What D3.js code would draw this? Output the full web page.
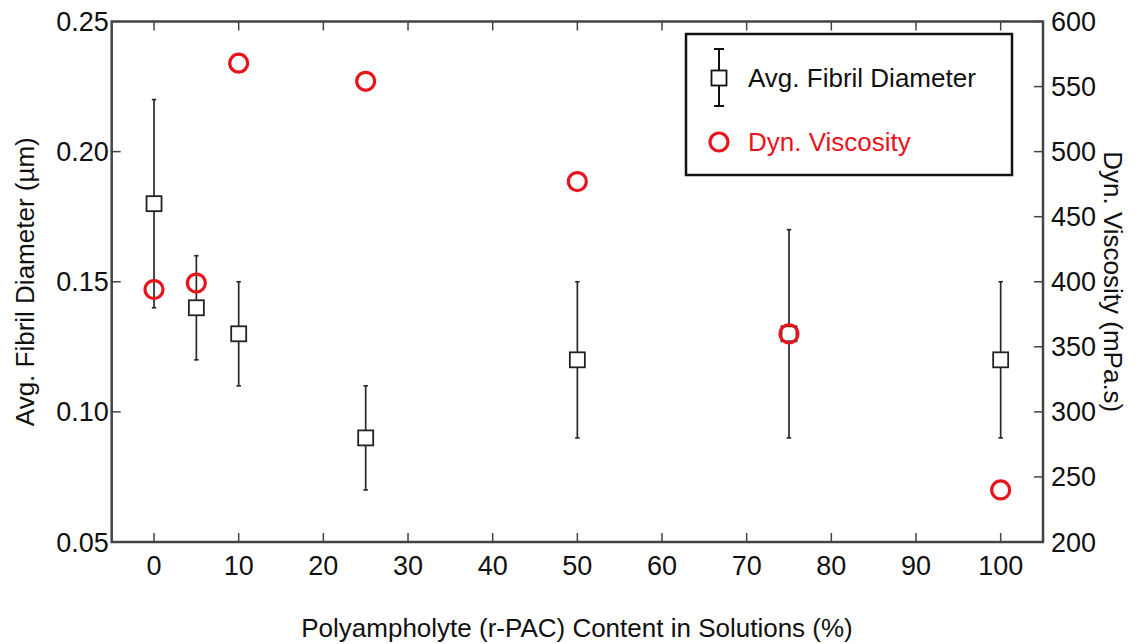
<!DOCTYPE html>
<html><head><meta charset="utf-8">
<script src="https://cdn.jsdelivr.net/npm/d3@7"></script>
<style>
body{margin:0;background:#fff;}
text{font-family:"Liberation Sans",Arial,sans-serif;}
</style></head>
<body><svg id="c" width="1141" height="644"></svg>
<script>
const contents = [0, 5, 10, 25, 50, 75, 100];
const diameter = [0.18, 0.14, 0.13, 0.09, 0.12, 0.13, 0.12];
const diamLow  = [0.14, 0.12, 0.11, 0.07, 0.09, 0.09, 0.09];
const diamHigh = [0.22, 0.16, 0.15, 0.11, 0.15, 0.17, 0.15];
const viscosity = [394, 399, 568, 554, 477, 360, 240];
const xTicks = [0,10,20,30,40,50,60,70,80,90,100];
const yLeftTicks = [0.05,0.10,0.15,0.20,0.25];
const yRightTicks = [200,250,300,350,400,450,500,550,600];

const svg = d3.select("#c");
const L=111.7, R=1043, T=21.5, B=542;
const x = d3.scaleLinear().domain([-5,105]).range([L,R]);
const yL = d3.scaleLinear().domain([0.05,0.25]).range([B,T]);
const yR = d3.scaleLinear().domain([200,600]).range([B,T]);
const frameCol="#444";
const tickLen=9;
const fs=27, tfs=26;

const g = svg.append("g");
xTicks.forEach(v=>{
  g.append("line").attr("x1",x(v)).attr("x2",x(v)).attr("y1",B).attr("y2",B-tickLen).attr("stroke",frameCol).attr("stroke-width",1.5);
  g.append("line").attr("x1",x(v)).attr("x2",x(v)).attr("y1",T).attr("y2",T+tickLen).attr("stroke",frameCol).attr("stroke-width",1.5);
  g.append("text").attr("x",x(v)).attr("y",B+33).attr("text-anchor","middle").attr("font-size",fs).attr("fill","#111").text(v);
});
yLeftTicks.forEach(v=>{
  g.append("line").attr("x1",L).attr("x2",L+tickLen).attr("y1",yL(v)).attr("y2",yL(v)).attr("stroke",frameCol).attr("stroke-width",1.5);
  g.append("text").attr("x",L-3).attr("y",yL(v)+9.5).attr("text-anchor","end").attr("font-size",fs).attr("fill","#111").text(v.toFixed(2));
});
yRightTicks.forEach(v=>{
  g.append("line").attr("x1",R).attr("x2",R-tickLen).attr("y1",yR(v)).attr("y2",yR(v)).attr("stroke",frameCol).attr("stroke-width",1.5);
  g.append("text").attr("x",R+8).attr("y",yR(v)+9.5).attr("text-anchor","start").attr("font-size",fs).attr("fill","#111").text(v);
});
svg.append("rect").attr("x",L).attr("y",T).attr("width",R-L).attr("height",B-T).attr("fill","none").attr("stroke",frameCol).attr("stroke-width",2.5);

svg.append("text").attr("x",577).attr("y",637).attr("text-anchor","middle").attr("font-size",tfs).attr("fill","#111").text("Polyampholyte (r-PAC) Content in Solutions (%)");
svg.append("text").attr("transform",`translate(34,${(T+B)/2}) rotate(-90)`).attr("text-anchor","middle").attr("font-size",tfs).attr("fill","#111").text("Avg. Fibril Diameter (µm)");
svg.append("text").attr("transform",`translate(1104,${(T+B)/2}) rotate(90)`).attr("text-anchor","middle").attr("font-size",tfs).attr("fill","#111").text("Dyn. Viscosity (mPa.s)");

const eb = svg.append("g");
contents.forEach((c,i)=>{
  eb.append("line").attr("x1",x(c)).attr("x2",x(c)).attr("y1",yL(diamLow[i])).attr("y2",yL(diamHigh[i])).attr("stroke","#2a2a2a").attr("stroke-width",1.7);
  [diamLow[i],diamHigh[i]].forEach(v=>eb.append("line").attr("x1",x(c)-2.2).attr("x2",x(c)+2.2).attr("y1",yL(v)).attr("y2",yL(v)).attr("stroke","#2a2a2a").attr("stroke-width",1.7));
});
const sq=15;
svg.append("g").selectAll("rect").data(contents).join("rect")
  .attr("x",d=>x(d)-sq/2).attr("y",(d,i)=>yL(diameter[i])-sq/2).attr("width",sq).attr("height",sq)
  .attr("fill","#fff").attr("stroke","#222").attr("stroke-width",1.8);
svg.append("g").selectAll("circle").data(contents).join("circle")
  .attr("cx",d=>x(d)).attr("cy",(d,i)=>yR(viscosity[i])).attr("r",9)
  .attr("fill","none").attr("stroke","#e8141b").attr("stroke-width",3.2);

const lg = svg.append("g");
lg.append("rect").attr("x",686).attr("y",34).attr("width",326).attr("height",141).attr("fill","#fff").attr("stroke","#111").attr("stroke-width",2.5);
lg.append("line").attr("x1",719).attr("x2",719).attr("y1",49).attr("y2",106).attr("stroke","#111").attr("stroke-width",2);
[49,106].forEach(v=>lg.append("line").attr("x1",714).attr("x2",724).attr("y1",v).attr("y2",v).attr("stroke","#111").attr("stroke-width",2));
lg.append("rect").attr("x",719-sq/2).attr("y",78-sq/2).attr("width",sq).attr("height",sq).attr("fill","#fff").attr("stroke","#111").attr("stroke-width",1.8);
lg.append("text").attr("x",748).attr("y",87).attr("font-size",tfs).attr("fill","#111").text("Avg. Fibril Diameter");
lg.append("circle").attr("cx",719).attr("cy",142).attr("r",9).attr("fill","none").attr("stroke","#e8141b").attr("stroke-width",3.2);
lg.append("text").attr("x",748).attr("y",151).attr("font-size",tfs).attr("fill","#e8141b").text("Dyn. Viscosity");
</script></body></html>
